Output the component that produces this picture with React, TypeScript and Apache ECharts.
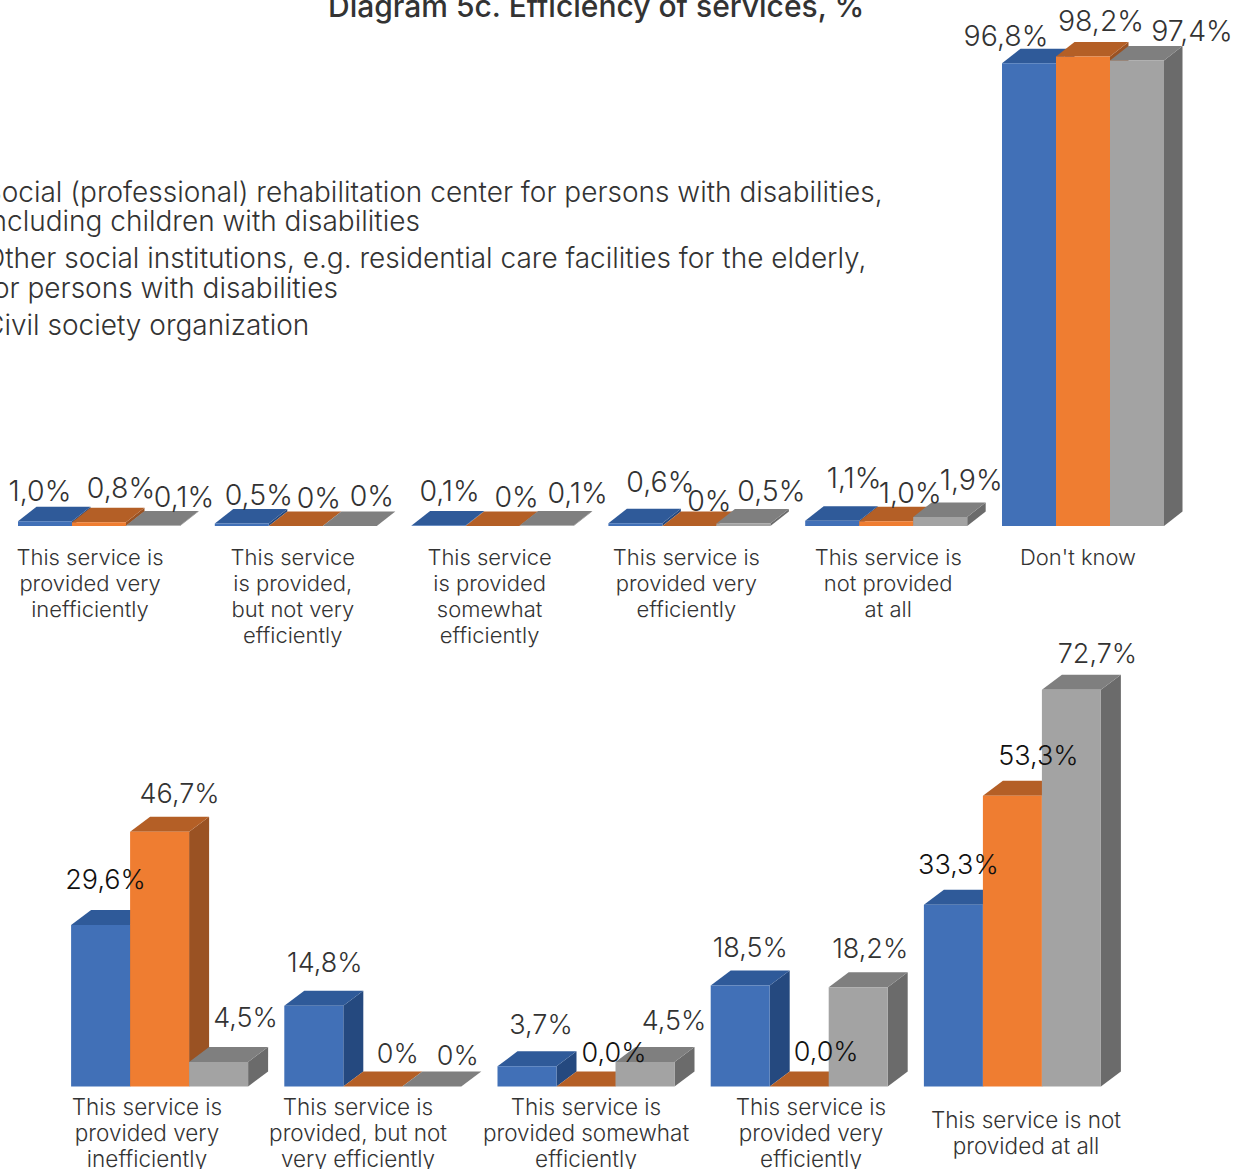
import React, { useEffect, useRef } from "react";
import * as echarts from "echarts";

const seriesNames = [
  "Social (professional) rehabilitation center for persons with disabilities,\nincluding children with disabilities",
  "Other social institutions, e.g. residential care facilities for the elderly,\nfor persons with disabilities",
  "Civil society organization",
];

const topCategories = [
  "This service is\nprovided very\ninefficiently",
  "This service\nis provided,\nbut not very\nefficiently",
  "This service\nis provided\nsomewhat\nefficiently",
  "This service is\nprovided very\nefficiently",
  "This service is\nnot provided\nat all",
  "Don't know",
];
const topBlue = [1.0, 0.5, 0.1, 0.6, 1.1, 96.8];
const topOrange = [0.8, 0, 0, 0, 1.0, 98.2];
const topGray = [0.1, 0, 0.1, 0.5, 1.9, 97.4];
const topBlueLabels = ["1,0%", "0,5%", "0,1%", "0,6%", "1,1%", "96,8%"];
const topOrangeLabels = ["0,8%", "0%", "0%", "0%", "1,0%", "98,2%"];
const topGrayLabels = ["0,1%", "0%", "0,1%", "0,5%", "1,9%", "97,4%"];

const bottomCategories = [
  "This service is\nprovided very\ninefficiently",
  "This service is\nprovided, but not\nvery efficiently",
  "This service is\nprovided somewhat\nefficiently",
  "This service is\nprovided very\nefficiently",
  "This service is not\nprovided at all",
];
const bottomBlue = [29.6, 14.8, 3.7, 18.5, 33.3];
const bottomOrange = [46.7, 0, 0, 0, 53.3];
const bottomGray = [4.5, 0, 4.5, 18.2, 72.7];
const bottomBlueLabels = ["29,6%", "14,8%", "3,7%", "18,5%", "33,3%"];
const bottomOrangeLabels = ["46,7%", "0%", "0,0%", "0,0%", "53,3%"];
const bottomGrayLabels = ["4,5%", "0%", "4,5%", "18,2%", "72,7%"];

// Styling and placement, kept apart from the data
const FONT = "Inter";
const PALETTE = [
  { front: "#4170b7", top: "#2f5a99", side: "#25497f" },
  { front: "#ef7d31", top: "#b45f26", side: "#9a5223" },
  { front: "#a3a3a3", top: "#7f7f7f", side: "#6b6b6b" },
];
const TOP_CFG = { group: 162 / 196.8, dx: 18.5, dy: 14.5, labelSize: 28.5 };
const BOTTOM_CFG = { group: 177 / 213.2, dx: 20, dy: 15, labelSize: 27 };

const topNudge = [
  [[-5, -31], [17, -29], [11, -35], [25, -42], [22, -43], [-23, -28]],
  [[22, -35], [23, -29], [24, -30], [20, -26], [24, -29], [18, -36]],
  [[31, -29.5], [22, -31], [31, -33], [28, -33], [31, -37], [55, -30]],
];
const bottomNudge = [
  [[5, -45], [11, -43], [14, -42], [10, -38], [5, -40]],
  [[20, -38], [25, -33], [28, -34], [27, -35], [26, -40]],
  [[27, -44], [26, -31], [29, -41], [12, -39], [26, -36]],
];
const topLabelShift = [-9, -3, -3, -3, 2, -5];
const bottomLabelShift = [-12.6, -14.8, 0, 11.8, 13.6];
const bottomLabelDrop = [0, 0, 0, 0, 13];
const darkLabels = new Set(["29,6%", "33,3%", "53,3%", "0,0%"]);

function frontLeft(api: any, cfg: any, s: number) {
  const i = api.value(0);
  const center = api.coord([i, 0])[0];
  const catW = api.size([1, 0])[0];
  const w = (catW * cfg.group) / 3;
  return { x: center - (3 * w) / 2 + s * w, w };
}

function barSeries(name: string, values: number[], s: number, cfg: any, gridIndex: number) {
  return {
    type: "custom",
    name,
    xAxisIndex: gridIndex,
    yAxisIndex: gridIndex,
    silent: true,
    z: 2 + s,
    itemStyle: { color: PALETTE[s].front },
    encode: { x: 0, y: 1 },
    data: values.map((v, i) => [i, v]),
    renderItem: (_p: any, api: any) => {
      const { x, w } = frontLeft(api, cfg, s);
      const yTop = api.coord([api.value(0), api.value(1)])[1];
      const yBase = api.coord([api.value(0), 0])[1];
      const { dx, dy } = cfg;
      const c = PALETTE[s];
      return {
        type: "group",
        children: [
          {
            type: "polygon",
            shape: { points: [[x + w, yTop], [x + w + dx, yTop - dy], [x + w + dx, yBase - dy], [x + w, yBase]] },
            style: { fill: c.side },
          },
          {
            type: "polygon",
            shape: { points: [[x, yTop], [x + dx, yTop - dy], [x + w + dx, yTop - dy], [x + w, yTop]] },
            style: { fill: c.top },
          },
          { type: "rect", shape: { x, y: yTop, width: w, height: yBase - yTop }, style: { fill: c.front } },
        ],
      };
    },
  };
}

function labelSeries(values: number[], labels: string[], nudge: number[][], s: number, cfg: any, gridIndex: number) {
  return {
    type: "custom",
    xAxisIndex: gridIndex,
    yAxisIndex: gridIndex,
    silent: true,
    z: 20,
    encode: { x: 0, y: 1 },
    data: values.map((v, i) => [i, v]),
    renderItem: (_p: any, api: any) => {
      const i = api.value(0);
      const { x, w } = frontLeft(api, cfg, s);
      const yTop = api.coord([i, api.value(1)])[1];
      const text = labels[i];
      return {
        type: "text",
        style: {
          text,
          x: x + w / 2 + nudge[i][0],
          y: yTop + nudge[i][1],
          align: "center",
          verticalAlign: "middle",
          fontFamily: FONT,
          fontWeight: 300,
          fontSize: cfg.labelSize,
          fill: darkLabels.has(text) ? "#111111" : "#333333",
        },
      };
    },
  };
}

function axisData(cats: string[], shift: number[], drop: number[] | null) {
  return cats.map((value, i) => ({
    value,
    textStyle: {
      padding: [drop ? drop[i] : 0, shift[i] < 0 ? -2 * shift[i] : 0, 0, shift[i] > 0 ? 2 * shift[i] : 0],
    },
  }));
}

export default function App() {
  const ref = useRef<HTMLDivElement>(null);
  useEffect(() => {
    const chart = echarts.init(ref.current!, undefined, { renderer: "svg" });
    const axisCommon = {
      type: "category",
      axisLine: { show: false },
      axisTick: { show: false },
      splitLine: { show: false },
    };
    const labelCommon = {
      interval: 0,
      hideOverlap: false,
      fontFamily: FONT,
      fontWeight: 300,
      lineHeight: 26,
      color: "#333333",
    };
    chart.setOption({
      animation: false,
      backgroundColor: "#ffffff",
      title: {
        text: "Diagram 5c. Efficiency of services, %",
        left: 328,
        top: -9,
        padding: 0,
        textStyle: { fontFamily: FONT, fontWeight: 500, fontSize: 30, color: "#333333" },
      },
      legend: {
        orient: "vertical",
        left: -35,
        top: 177,
        itemGap: 7.5,
        itemWidth: 14,
        itemHeight: 14,
        padding: 0,
        selectedMode: false,
        data: seriesNames,
        textStyle: { fontFamily: FONT, fontWeight: 300, fontSize: 28, lineHeight: 29.5, color: "#333333" },
      },
      grid: [
        { left: 0.6, width: 1180.8, top: 48, height: 478, outerBoundsMode: "none" },
        { left: 53, width: 1066, top: 650, height: 436.5, outerBoundsMode: "none" },
      ],
      xAxis: [
        {
          ...axisCommon,
          gridIndex: 0,
          data: axisData(topCategories, topLabelShift, null),
          axisLabel: { ...labelCommon, fontSize: 22, margin: 18 },
        },
        {
          ...axisCommon,
          gridIndex: 1,
          data: axisData(bottomCategories, bottomLabelShift, bottomLabelDrop),
          axisLabel: { ...labelCommon, fontSize: 22.5, margin: 7 },
        },
      ],
      yAxis: [
        { type: "value", gridIndex: 0, min: 0, max: 100, show: false },
        { type: "value", gridIndex: 1, min: 0, max: 80, show: false },
      ],
      series: [
        barSeries(seriesNames[0], topBlue, 0, TOP_CFG, 0),
        barSeries(seriesNames[1], topOrange, 1, TOP_CFG, 0),
        barSeries(seriesNames[2], topGray, 2, TOP_CFG, 0),
        barSeries(seriesNames[0], bottomBlue, 0, BOTTOM_CFG, 1),
        barSeries(seriesNames[1], bottomOrange, 1, BOTTOM_CFG, 1),
        barSeries(seriesNames[2], bottomGray, 2, BOTTOM_CFG, 1),
        labelSeries(topBlue, topBlueLabels, topNudge[0], 0, TOP_CFG, 0),
        labelSeries(topOrange, topOrangeLabels, topNudge[1], 1, TOP_CFG, 0),
        labelSeries(topGray, topGrayLabels, topNudge[2], 2, TOP_CFG, 0),
        labelSeries(bottomBlue, bottomBlueLabels, bottomNudge[0], 0, BOTTOM_CFG, 1),
        labelSeries(bottomOrange, bottomOrangeLabels, bottomNudge[1], 1, BOTTOM_CFG, 1),
        labelSeries(bottomGray, bottomGrayLabels, bottomNudge[2], 2, BOTTOM_CFG, 1),
      ],
    });
    return () => chart.dispose();
  }, []);
  return <div ref={ref} style={{ position: "absolute", left: 0, top: 0, width: 1247, height: 1169 }} />;
}
